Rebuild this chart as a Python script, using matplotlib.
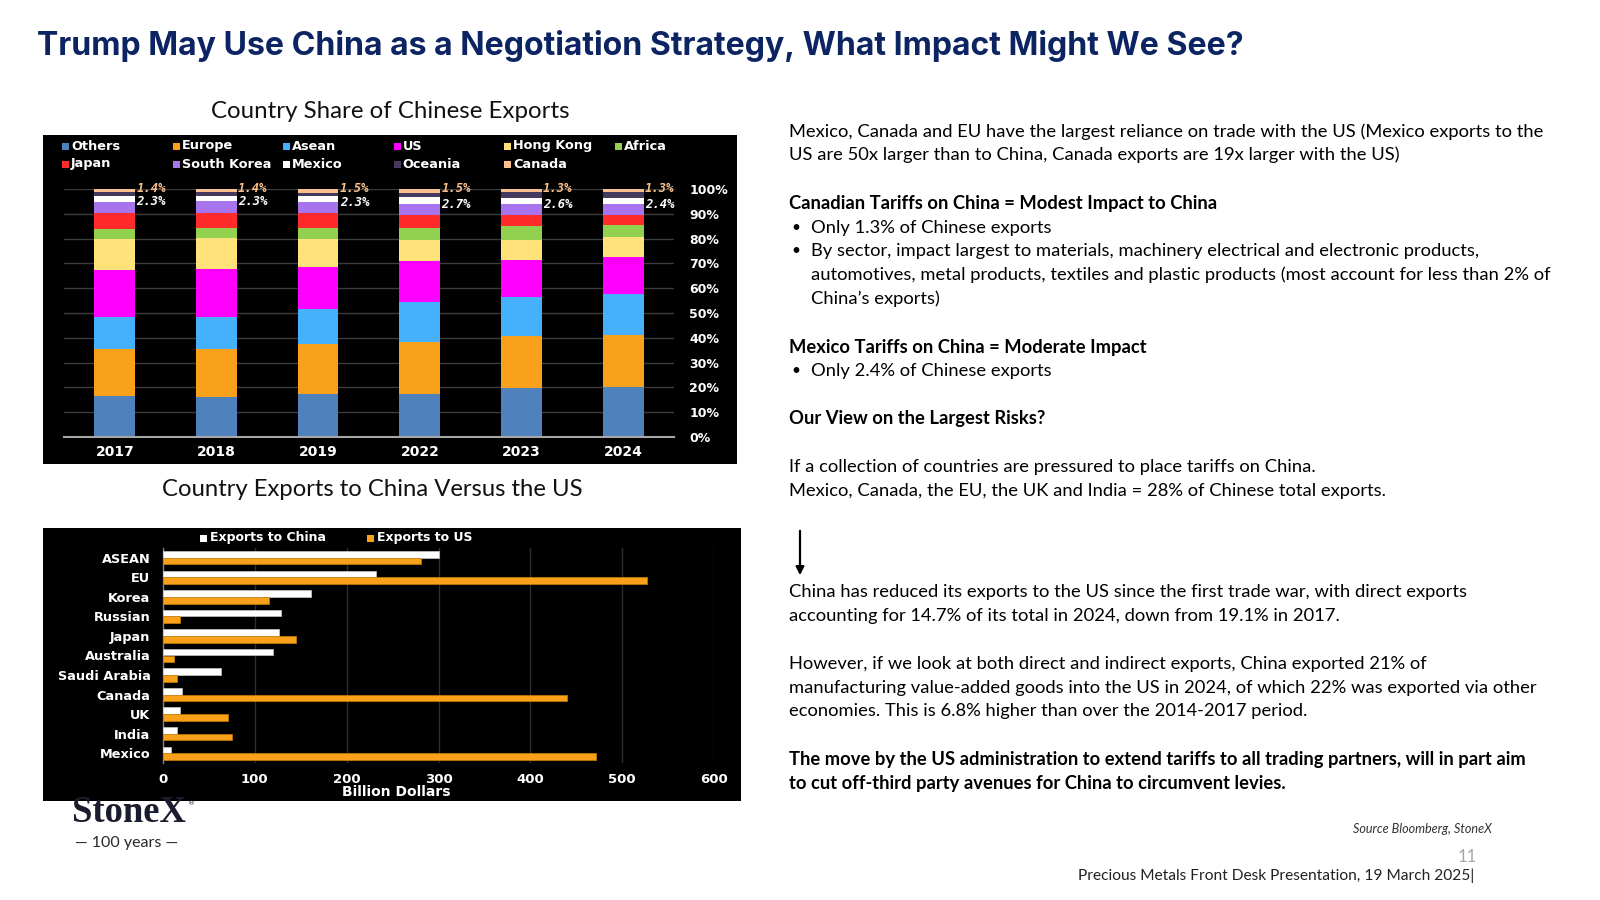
import matplotlib
matplotlib.use('Agg')
import matplotlib.pyplot as plt
from matplotlib.patches import Rectangle
from matplotlib.ticker import FuncFormatter
import numpy as np

# ---------------- data ----------------
years = ['2017', '2018', '2019', '2022', '2023', '2024']
regions = ['Others', 'Europe', 'Asean', 'US', 'Hong Kong', 'Africa',
           'Japan', 'South Korea', 'Mexico', 'Oceania', 'Canada']
others = [16.5, 16.0, 17.2, 17.2, 19.8, 20.3]
europe = [19.1, 19.4, 20.2, 21.1, 21.1, 20.8]
asean = [12.6, 12.8, 14.2, 16.3, 15.6, 16.6]
us = [19.1, 19.6, 17.1, 16.5, 15.0, 14.7]
hong_kong = [12.6, 12.3, 11.2, 8.4, 8.0, 8.1]
africa = [4.0, 4.0, 4.5, 4.8, 5.5, 4.9]
japan = [6.3, 6.3, 5.8, 5.1, 4.6, 4.3]
south_korea = [4.6, 4.6, 4.5, 4.5, 4.3, 4.1]
mexico = [2.3, 2.3, 2.3, 2.7, 2.6, 2.4]
oceania = [1.5, 1.3, 1.5, 1.9, 2.2, 2.5]
canada = [1.4, 1.4, 1.5, 1.5, 1.3, 1.3]
region_colors = ['#4f81bd', '#f9a11b', '#45b1fc', '#ff00ff', '#ffe27a', '#92d050',
                 '#ff2b2b', '#a874ee', '#ffffff', '#46395e', '#f9c08e']

countries = ['ASEAN', 'EU', 'Korea', 'Russian', 'Japan', 'Australia',
             'Saudi Arabia', 'Canada', 'UK', 'India', 'Mexico']
exports_to_china = [301, 232, 161, 128, 126, 120, 63, 21, 19, 15, 9]
exports_to_us = [281, 527, 115, 18, 145, 12, 15, 440, 71, 75, 472]
export_labels = ['Exports to China', 'Exports to US']
export_colors = ['#ffffff', '#f9a11b']

# ---------------- figure helpers ----------------
W, H = 1600, 900
fig = plt.figure(figsize=(16, 9), dpi=100)
fig.patch.set_facecolor('white')
renderer = fig.canvas.get_renderer()


def fx(x):
    return x / W


def fy(y):
    return 1 - y / H


def rect(x0, y0, x1, y1):
    return [x0 / W, 1 - y1 / H, (x1 - x0) / W, (y1 - y0) / H]


def fit(txt, target, **kw):
    t = fig.text(0, 0, txt, fontsize=10, **kw)
    w = t.get_window_extent(renderer).width
    t.remove()
    return 10 * target / w


BOLD = 'DejaVu Sans'

# ---------------- title ----------------
title = 'Trump May Use China as a Negotiation Strategy, What Impact Might We See?'
ts = fit(title, 1207, family='Inter', weight='bold')
fig.text(fx(37), fy(46), title, fontsize=ts, family='Inter', weight='bold',
         color='#0c2461', ha='left', va='center')

# ---------------- subtitles ----------------
st1 = 'Country Share of Chinese Exports'
s1 = fit(st1, 357, family='Lato')
fig.text(fx(390), fy(112), st1, fontsize=s1, family='Lato', color='#111111',
         ha='center', va='center')
st2 = 'Country Exports to China Versus the US'
s2 = fit(st2, 421, family='Lato')
fig.text(fx(372), fy(489), st2, fontsize=s2, family='Lato', color='#111111',
         ha='center', va='center')

# ---------------- top chart ----------------
bg1 = fig.add_axes(rect(43, 135, 737, 464))
bg1.set_facecolor('black')
bg1.set_xticks([]); bg1.set_yticks([])
for s in bg1.spines.values():
    s.set_visible(False)

ax1 = fig.add_axes(rect(64, 189, 674, 437))
ax1.patch.set_alpha(0)
series = [others, europe, asean, us, hong_kong, africa, japan, south_korea,
          mexico, oceania, canada]
x = np.arange(len(years))
bottom = np.zeros(len(years))
bottoms = {}
for name, vals, col in zip(regions, series, region_colors):
    ax1.bar(x, vals, bottom=bottom, width=0.4, color=col, linewidth=0, zorder=3)
    bottoms[name] = bottom.copy()
    bottom = bottom + np.array(vals)

ax1.set_xlim(-0.5, 5.5)
ax1.set_ylim(0, 100)
ax1.set_yticks(range(0, 101, 10))
ax1.yaxis.set_major_formatter(FuncFormatter(lambda v, p: f'{int(v)}%'))
ax1.yaxis.tick_right()
ax1.yaxis.grid(True, color='#3c3c3c', linewidth=1, zorder=0)
ax1.set_axisbelow(True)
ax1.tick_params(axis='y', length=0, pad=11, labelsize=9, labelcolor='white')
ax1.set_xticks(x)
ax1.set_xticklabels(years)
ax1.tick_params(axis='x', length=0, pad=6, labelsize=10, labelcolor='white')
for lab in ax1.get_xticklabels() + ax1.get_yticklabels():
    lab.set_fontweight('bold')
for k, s in ax1.spines.items():
    s.set_visible(False)
ax1.spines['bottom'].set_visible(True)
ax1.spines['bottom'].set_color('#a6a6a6')
ax1.spines['bottom'].set_linewidth(1.5)
ax1.spines['bottom'].set_zorder(4)

for i in range(len(years)):
    ax1.annotate(f'{canada[i]}%', xy=(i + 0.2, bottom[i] + 0.2), xytext=(1, 0),
                 textcoords='offset points', ha='left', va='center',
                 fontsize=8.8, family='DejaVu Sans Mono', weight='bold',
                 style='italic', color='#f9c08e', zorder=5,
                 annotation_clip=False)
    ax1.annotate(f'{mexico[i]}%', xy=(i + 0.2, bottoms['Mexico'][i]), xytext=(1, 0),
                 textcoords='offset points', ha='left', va='center',
                 fontsize=8.8, family='DejaVu Sans Mono', weight='bold',
                 style='italic', color='white', zorder=5,
                 annotation_clip=False)

# legend (manual grid, 6 columns)
for j, (name, col) in enumerate(zip(regions, region_colors)):
    row, c = divmod(j, 6)
    xs = 62 + 110.5 * c
    ys = 146 + 18 * row
    fig.add_artist(Rectangle((fx(xs), fy(ys + 3.5)), 7 / W, 7 / H,
                             transform=fig.transFigure, facecolor=col,
                             edgecolor='none'))
    fig.text(fx(xs + 9), fy(ys), name, fontsize=9.3, weight='bold', color='white',
             ha='left', va='center', family=BOLD)

# ---------------- bottom chart ----------------
bg2 = fig.add_axes(rect(43, 528, 741, 801))
bg2.set_facecolor('black')
bg2.set_xticks([]); bg2.set_yticks([])
for s in bg2.spines.values():
    s.set_visible(False)

ax2 = fig.add_axes(rect(163, 548, 714, 763))
ax2.patch.set_alpha(0)
yy = np.arange(len(countries))
ax2.barh(yy - 0.17, exports_to_china, height=0.34, color=export_colors[0],
         edgecolor='#c8c8c8', linewidth=0.5, zorder=3)
ax2.barh(yy + 0.17, exports_to_us, height=0.34, color=export_colors[1],
         edgecolor='#c87f00', linewidth=0.5, zorder=3)
ax2.set_xlim(0, 600)
ax2.set_ylim(10.5, -0.5)
ax2.set_xticks(range(0, 601, 100))
ax2.xaxis.grid(True, color='#2e2e2e', linewidth=1, zorder=0)
ax2.set_axisbelow(True)
ax2.set_yticks(yy)
ax2.set_yticklabels(countries)
ax2.tick_params(axis='x', length=0, pad=7, labelsize=9.5, labelcolor='white')
ax2.tick_params(axis='y', length=0, pad=9, labelsize=9.3, labelcolor='white')
for lab in ax2.get_xticklabels() + ax2.get_yticklabels():
    lab.set_fontweight('bold')
for k, s in ax2.spines.items():
    s.set_visible(False)
ax2.spines['left'].set_visible(True)
ax2.spines['left'].set_color('#7f7f7f')
ax2.spines['left'].set_linewidth(1)
fig.text(fx(396), fy(792), 'Billion Dollars', fontsize=10, weight='bold',
         color='white', ha='center', va='center', family=BOLD)

leg_x = [200, 367]
for lx, name, col in zip(leg_x, export_labels, export_colors):
    fig.add_artist(Rectangle((fx(lx), fy(538 + 3.5)), 7 / W, 7 / H,
                             transform=fig.transFigure, facecolor=col,
                             edgecolor='none'))
    fig.text(fx(lx + 10), fy(538), name, fontsize=9, weight='bold', color='white',
             ha='left', va='center', family=BOLD)

# ---------------- right text ----------------
line1 = ('Mexico, Canada and EU have the largest reliance on trade with the US '
         '(Mexico exports to the')
bs = fit(line1, 754, family='Lato')
TX = 789
IND = 811
lines = [
    (132, TX, line1, 'normal'),
    (155, TX, 'US are 50x larger than to China, Canada exports are 19x larger with the US)', 'normal'),
    (203, TX, 'Canadian Tariffs on China = Modest Impact to China', 'bold'),
    (228, IND, 'Only 1.3% of Chinese exports', 'normal'),
    (251, IND, 'By sector, impact largest to materials, machinery electrical and electronic products,', 'normal'),
    (275, IND, 'automotives, metal products, textiles and plastic products (most account for less than 2% of', 'normal'),
    (299, IND, 'China\u2019s exports)', 'normal'),
    (347, TX, 'Mexico Tariffs on China = Moderate Impact', 'bold'),
    (371, IND, 'Only 2.4% of Chinese exports', 'normal'),
    (419, TX, 'Our View on the Largest Risks?', 'bold'),
    (467, TX, 'If a collection of countries are pressured to place tariffs on China.', 'normal'),
    (491, TX, 'Mexico, Canada, the EU, the UK and India = 28% of Chinese total exports.', 'normal'),
    (592, TX, 'China has reduced its exports to the US since the first trade war, with direct exports', 'normal'),
    (616, TX, 'accounting for 14.7% of its total in 2024, down from 19.1% in 2017.', 'normal'),
    (664, TX, 'However, if we look at both direct and indirect exports, China exported 21% of', 'normal'),
    (688, TX, 'manufacturing value-added goods into the US in 2024, of which 22% was exported via other', 'normal'),
    (711, TX, 'economies. This is 6.8% higher than over the 2014-2017 period.', 'normal'),
    (760, TX, 'The move by the US administration to extend tariffs to all trading partners, will in part aim', 'bold'),
    (784, TX, 'to cut off-third party avenues for China to circumvent levies.', 'bold'),
]
for y, xx, txt, w in lines:
    fig.text(fx(xx), fy(y), txt, fontsize=bs, family='Lato', weight=w,
             color='black', ha='left', va='center')
for y in (228, 251, 371):
    fig.text(fx(TX + 2), fy(y), '\u2022', fontsize=bs * 0.85, family='Lato',
             color='black', ha='left', va='center')

fig.add_artist(matplotlib.patches.FancyArrowPatch(
    (fx(800), fy(528)), (fx(800), fy(578)), transform=fig.transFigure,
    arrowstyle='-|>', mutation_scale=12, color='black', linewidth=1.6))

src = 'Source Bloomberg, StoneX'
ss = fit(src, 139, family='Lato', style='italic')
fig.text(fx(1492), fy(829), src, fontsize=ss, family='Lato', style='italic',
         color='#333333', ha='right', va='center')
fig.text(fx(1477), fy(857), '11', fontsize=12, family='Lato',
         color='#a6a6a6', ha='right', va='center')
foot = 'Precious Metals Front Desk Presentation, 19 March 2025|'
fs = fit(foot, 397, family='Lato')
fig.text(fx(1474), fy(876), foot, fontsize=fs, family='Lato', color='#222222',
         ha='right', va='center')

# ---------------- logo ----------------
ls = fit('StoneX', 114, family='Liberation Serif', weight='bold')
fig.text(fx(72), fy(813), 'StoneX', fontsize=ls, family='Liberation Serif',
         weight='bold', color='#1b1c2e', ha='left', va='center')
fig.text(fx(188), fy(803), '\u00ae', fontsize=5, family='DejaVu Sans',
         color='#1b1c2e', ha='left', va='center')
fig.text(fx(127), fy(843), '\u2014 100 years \u2014', fontsize=11.5, family='Lato',
         color='#2a2a2a', ha='center', va='center')

fig.savefig('out.png', dpi=100, facecolor='white')
